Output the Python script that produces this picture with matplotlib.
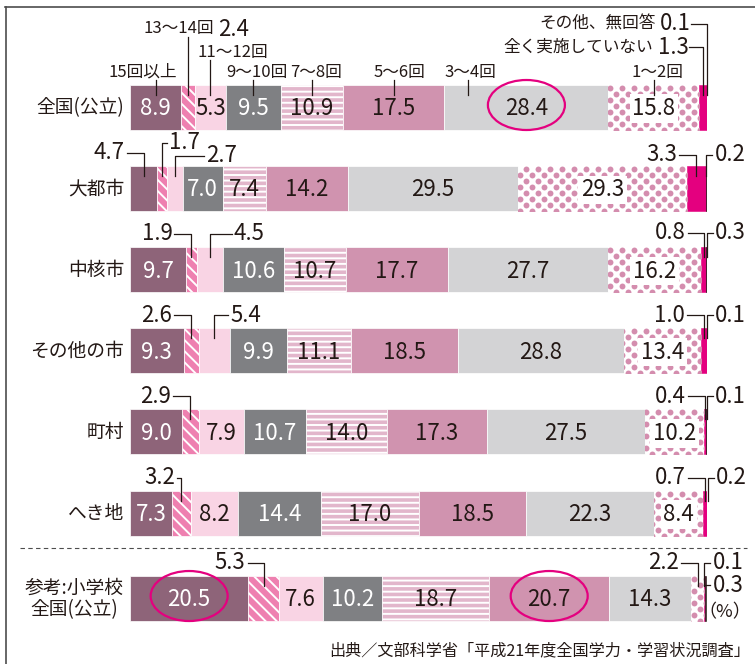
import numpy as np
import matplotlib
matplotlib.use("Agg")
import matplotlib.pyplot as plt
from matplotlib.patches import Ellipse
from matplotlib.lines import Line2D

plt.rcParams['font.family'] = ['Noto Sans CJK JP', 'DejaVu Sans']
plt.rcParams['hatch.linewidth'] = 1.4

# Data (%)
categories = ['15回以上', '13〜14回', '11〜12回', '9〜10回', '7〜8回', '5〜6回',
              '3〜4回', '1〜2回', '全く実施していない', 'その他、無回答']
groups = ['全国(公立)', '大都市', '中核市', 'その他の市', '町村', 'へき地',
          '参考:小学校\n全国(公立)']

zenkoku = [8.9, 2.4, 5.3, 9.5, 10.9, 17.5, 28.4, 15.8, 1.3, 0.1]
daitoshi = [4.7, 1.7, 2.7, 7.0, 7.4, 14.2, 29.5, 29.3, 3.3, 0.2]
chukakushi = [9.7, 1.9, 4.5, 10.6, 10.7, 17.7, 27.7, 16.2, 0.8, 0.3]
sonota_shi = [9.3, 2.6, 5.4, 9.9, 11.1, 18.5, 28.8, 13.4, 1.0, 0.1]
chouson = [9.0, 2.9, 7.9, 10.7, 14.0, 17.3, 27.5, 10.2, 0.4, 0.1]
hekichi = [7.3, 3.2, 8.2, 14.4, 17.0, 18.5, 22.3, 8.4, 0.7, 0.2]
shogakko = [20.5, 5.3, 7.6, 10.2, 18.7, 20.7, 14.3, 2.2, 0.1, 0.3]

source = '出典／文部科学省「平成21年度全国学力・学習状況調査」'

# Styles
colors = ['#8E6479', '#EE80B0', '#F9D4E4', '#7F8083', '#E2B6CB', '#D093AF',
          '#D3D3D5', 'white', '#E4007F', '#231815']
hatches = [None, '\\\\\\', None, None, '---', None, None, None, None, None]
dot_color = '#D48DAE'
text_color = '#231815'
accent = '#E4007F'

W, H = 755, 664
X0, SX = 130, 5.77     # bar start px, px per percent
Y0, SY = 107, 81.2     # first row centre px, px per row
row_y = np.array([0, 1, 2, 3, 4, 5, 6.047])
bar_h = 45 / SY


def X(px):
    return (px - X0) / SX


def Y(py):
    return (py - Y0) / SY


fig = plt.figure(figsize=(W / 100, H / 100), dpi=100)
ax = fig.add_axes([X0 / W, 0, 100 * SX / W, 1])
ax.set_xlim(0, 100)
ax.set_ylim(Y(H), Y(0))
ax.axis('off')

data = np.array([zenkoku, daitoshi, chukakushi, sonota_shi, chouson, hekichi, shogakko])
starts = np.hstack([np.zeros((len(groups), 1)), np.cumsum(data, axis=1)[:, :-1]])
mids = starts + data / 2

# bars
for j in range(len(categories)):
    ec = 'white' if j < 8 else colors[j]
    bars = ax.barh(row_y, data[:, j], left=starts[:, j], height=bar_h, color=colors[j],
                   edgecolor=ec, linewidth=0.5 if j < 8 else 0.4, hatch=hatches[j], zorder=2)
    if j == 7:
        # dotted texture for 1〜2回
        dx, dy = 12 / SX, 6 / SY
        for i, patch in enumerate(bars.patches):
            x0, x1 = starts[i, j], starts[i, j] + data[i, j]
            y0, y1 = row_y[i] - bar_h / 2, row_y[i] + bar_h / 2
            pts = []
            for k, yy in enumerate(np.arange(y0 + dy / 2, y1 + dy, dy)):
                off = (k % 2) * dx / 2
                for xx in np.arange(np.floor(x0 / dx) * dx + off - dx, x1 + dx, dx):
                    pts.append((xx, yy))
            pts = np.array(pts)
            sc = ax.scatter(pts[:, 0], pts[:, 1], s=18, color=dot_color, linewidths=0, zorder=3)
            sc.set_clip_path(patch)

# outside labels: (row, cat, side, gap px, rise px above bar top)
outside = [
    (1, 0, 'L', 19, 13), (1, 1, 'R', 7, 23), (1, 2, 'R', 31, 10), (1, 8, 'L', 19, 11), (1, 9, 'R', 8, 11),
    (2, 1, 'L', 19, 13), (2, 2, 'R', 24, 13), (2, 8, 'L', 18, 14), (2, 9, 'R', 8, 14),
    (3, 1, 'L', 19, 13), (3, 2, 'R', 16, 13), (3, 8, 'L', 19, 13), (3, 9, 'R', 8, 13),
    (4, 1, 'L', 19, 13), (4, 8, 'L', 19, 13), (4, 9, 'R', 8, 13),
    (5, 1, 'L', 6, 13), (5, 8, 'L', 19, 13), (5, 9, 'R', 8, 13),
    (6, 1, 'L', 18, 13), (6, 7, 'L', 19, 13), (6, 8, 'R', 8, 13),
]
skip = {(r, c) for r, c, *_ in outside} | {(0, 1), (0, 8), (0, 9), (6, 9)}

# in-bar values
for i in range(len(groups)):
    for j in range(8):
        if (i, j) in skip:
            continue
        kw = {}
        if j == 7:
            kw['bbox'] = dict(boxstyle='square,pad=0.12', fc='white', ec='none')
        ax.text(mids[i, j], row_y[i] + 0.02, f'{data[i, j]:.1f}', ha='center', va='center',
                fontsize=16, color='white' if j in (0, 3) else text_color, zorder=5, **kw)

line_kw = dict(color=text_color, lw=0.9, clip_on=False, zorder=6)

for i, j, side, gap, rise in outside:
    top_px = Y0 + row_y[i] * SY - 45 / 2
    ty = Y(top_px - rise)
    lx = mids[i, j]
    if side == 'L':
        tx = lx - gap / SX
        ax.text(tx, ty, f'{data[i, j]:.1f}', ha='right', va='center', fontsize=16, color=text_color)
        ax.plot([tx + 2 / SX, lx, lx], [ty, ty, Y(top_px + 10)], **line_kw)
    else:
        tx = lx + gap / SX
        ax.text(tx, ty, f'{data[i, j]:.1f}', ha='left', va='center', fontsize=16, color=text_color)
        ax.plot([tx - 2 / SX, lx, lx], [ty, ty, Y(top_px + 10)], **line_kw)

# 参考 row: second small value hanging off the same leader
ty = Y(585)
lx = mids[6, 8]
ax.text(lx + 8 / SX, ty, f'{data[6, 9]:.1f}', ha='left', va='center', fontsize=16, color=text_color)
ax.plot([lx, lx + 6 / SX], [ty, ty], **line_kw)

# header labels for the first row: (cat, text y px, text offset px from leader)
header = [(0, 72, -13), (2, 52, 22), (3, 72, 4), (4, 72, 4), (5, 72, 5), (6, 72, 3), (7, 72, 4)]
top0 = Y0 - 45 / 2
for j, ty_px, off in header:
    lx = mids[0, j] if j != 6 else starts[0, j] + 4
    ax.text(lx + off / SX, Y(ty_px), categories[j], ha='center', va='center',
            fontsize=12, color=text_color)
    ax.plot([lx, lx], [Y(ty_px + 8), Y(top0 + 10)], **line_kw)

# 13〜14回 2.4
lx = mids[0, 1]
ax.text(X(214), Y(29), categories[1], ha='right', va='center', fontsize=12, color=text_color)
ax.text(X(218), Y(29), f'{data[0, 1]:.1f}', ha='left', va='center', fontsize=16, color=text_color)
ax.plot([lx, lx], [Y(37), Y(top0 + 10)], **line_kw)

# 全く実施していない / その他、無回答
for j, ty_px, name_end, num_start in [(8, 47, 653, 658), (9, 24, 656, 660)]:
    lx = mids[0, j]
    ax.text(X(name_end), Y(ty_px), categories[j], ha='right', va='center', fontsize=12, color=text_color)
    ax.text(X(num_start), Y(ty_px), f'{data[0, j]:.1f}', ha='left', va='center',
            fontsize=16, color=text_color)
    ax.plot([X(num_start + 31), lx, lx], [Y(ty_px), Y(ty_px), Y(top0 + 10)], **line_kw)

# highlight ellipses
for i, j in [(0, 6), (6, 0), (6, 5)]:
    ax.add_patch(Ellipse((mids[i, j], row_y[i] - 2 / SY), 77 / SX, 50 / SY,
                         fill=False, ec=accent, lw=1.6, zorder=7, clip_on=False))

# group labels
for i, g in enumerate(groups):
    ax.text(X(124), row_y[i] + 0.01, g, ha='right', va='center', fontsize=13.5,
            color=text_color, multialignment='center', linespacing=1.05)

ax.text(X(725), Y(612), '（%）', ha='center', va='center', fontsize=13, color=text_color)
ax.text(X(750), Y(651), source, ha='right', va='center', fontsize=11.6, color=text_color)

# frame and separator
fig.add_artist(Line2D([5 / W, 1], [1 - 7 / H, 1 - 7 / H], color='#4D4D4D', lw=1.2))
fig.add_artist(Line2D([5.5 / W, 5.5 / W], [0, 1 - 7 / H], color='#4D4D4D', lw=1.2))
fig.add_artist(Line2D([20 / W, 747 / W], [1 - 548 / H, 1 - 548 / H], color='#4D4D4D',
                      lw=0.8, dashes=(4, 3)))

fig.savefig('out.png', dpi=100)
